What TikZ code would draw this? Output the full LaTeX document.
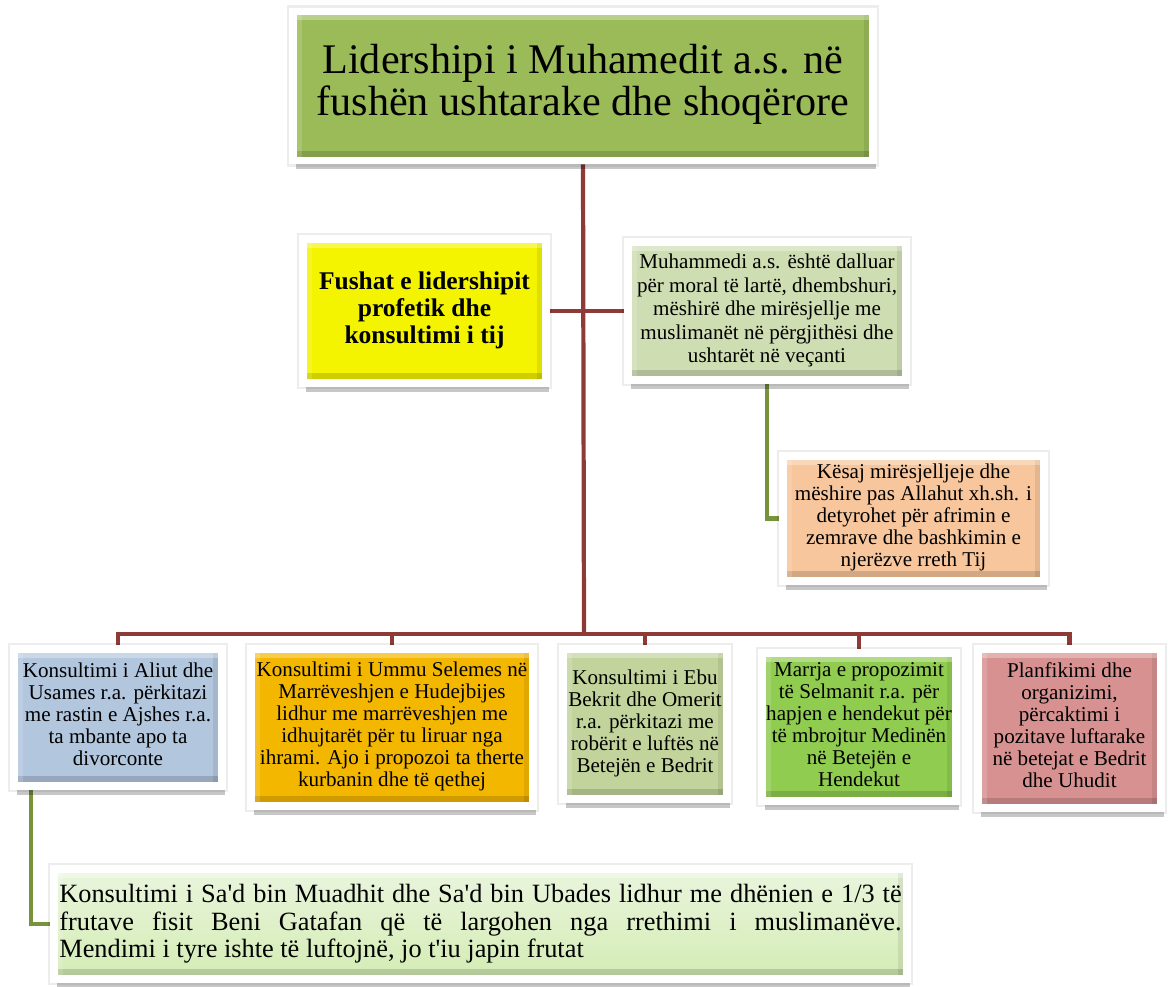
\documentclass[tikz,border=0pt]{standalone}
\usepackage{fontspec}
\setmainfont{Liberation Serif}
\usetikzlibrary{shadows,backgrounds}

\definecolor{titlegreen}{HTML}{9BBB59}
\definecolor{fieldyellow}{HTML}{F4F400}
\definecolor{moralgreen}{HTML}{CFDDB2}
\definecolor{mercypeach}{HTML}{F7C69C}
\definecolor{aliblue}{HTML}{B2C6DE}
\definecolor{ummuorange}{HTML}{F4B700}
\definecolor{bekrolive}{HTML}{C2D49C}
\definecolor{selmangreen}{HTML}{90CC50}
\definecolor{planred}{HTML}{D69190}
\definecolor{sadlight}{HTML}{EAF5DD}
\definecolor{saddark}{HTML}{D3ECB4}
\definecolor{linkred}{HTML}{8E3A37}
\definecolor{linkgreen}{HTML}{77933C}

\tikzset{
	box/.style={draw=white, line width=4.5pt, fill=#1, inner sep=0pt,
		preaction={draw=black, draw opacity=0.07, line width=7pt},
		drop shadow={shadow xshift=1.5pt, shadow yshift=-5pt, opacity=0.22, fill=black},
		path picture={
			\fill[black, opacity=0.15] ([yshift=2.2pt]path picture bounding box.south west) rectangle ([yshift=5.5pt]path picture bounding box.south east);
			\fill[black, opacity=0.08] ([xshift=-2.2pt]path picture bounding box.south east) rectangle ([xshift=-5pt]path picture bounding box.north east);
			\fill[white, opacity=0.3] ([yshift=-2.2pt]path picture bounding box.north west) rectangle ([yshift=-5pt]path picture bounding box.north east);
			\fill[white, opacity=0.15] ([xshift=2.2pt]path picture bounding box.south west) rectangle ([xshift=5pt]path picture bounding box.north west);
		}},
	redlink/.style={draw=linkred, line width=2.4pt},
	greenlink/.style={draw=linkgreen, line width=2.4pt},
	small/.style={font=\fontsize{12}{12.5}\selectfont}
}

\begin{document}
\begin{tikzpicture}[x=0.02cm,y=-0.02cm]
	\useasboundingbox (0,0) rectangle (1168,986);
	
	\node[box=titlegreen, minimum width=11.6cm, minimum height=2.98cm, font=\fontsize{24}{24}\selectfont] (title) at (583,86){\begin{tabular}{c}Lidershipi i Muhamedit a.s. në\\ fushën ushtarake dhe shoqërore\end{tabular}};
	
	\node[box=fieldyellow, minimum width=4.86cm, minimum height=2.88cm, font=\fontsize{14.5}{15.6}\selectfont\bfseries] (fields) at (424.5,311){\begin{tabular}{c}Fushat e lidershipit\\ profetik dhe\\ konsultimi i tij\end{tabular}};
	
	\node[box=moralgreen, minimum width=5.56cm, minimum height=2.76cm, font=\fontsize{12}{13.3}\selectfont] (moral) at (767,311){\begin{tabular}{@{}c@{}}Muhammedi a.s. është dalluar\\ për moral të lartë, dhembshuri,\\ mëshirë dhe mirësjellje me\\ muslimanët në përgjithësi dhe\\ ushtarët në veçanti\end{tabular}};
	
	\node[box=mercypeach, minimum width=5.22cm, minimum height=2.5cm, small] (mercy) at (913.5,518.5){\begin{tabular}{c}Kësaj mirësjelljeje dhe\\ mëshire pas Allahut xh.sh. i\\ detyrohet për afrimin e\\ zemrave dhe bashkimin e\\ njerëzve rreth Tij\end{tabular}};
	
	\node[box=aliblue, minimum width=4.16cm, minimum height=2.74cm, small] (ali) at (118,717.5){\begin{tabular}{@{}c@{}}Konsultimi i Aliut dhe\\ Usames r.a. përkitazi\\ me rastin e Ajshes r.a.\\ ta mbante apo ta\\ divorconte\end{tabular}};
	
	\node[box=ummuorange, minimum width=5.64cm, minimum height=3.14cm, small] (ummu) at (392,727.5){\begin{tabular}{@{}c@{}}Konsultimi i Ummu Selemes në\\ Marrëveshjen e Hudejbijes\\ lidhur me marrëveshjen me\\ idhujtarët për tu liruar nga\\ ihrami. Ajo i propozoi ta therte\\ kurbanin dhe të qethej\end{tabular}};
	
	\node[box=bekrolive, minimum width=3.28cm, minimum height=3cm, small] (bekr) at (645,724){\begin{tabular}{@{}c@{}}Konsultimi i Ebu\\ Bekrit dhe Omerit\\ r.a. përkitazi me\\ robërit e luftës në\\ Betejën e Bedrit\end{tabular}};
	
	\node[box=selmangreen, minimum width=3.88cm, minimum height=2.96cm, small] (selman) at (859,727){\begin{tabular}{@{}c@{}}Marrja e propozimit\\ të Selmanit r.a. për\\ hapjen e hendekut për\\ të mbrojtur Medinën\\ në Betejën e\\ Hendekut\end{tabular}};
	
	\node[box=planred, minimum width=3.66cm, minimum height=3.18cm, small] (plan) at (1069.5,728.5){\begin{tabular}{@{}c@{}}Planfikimi dhe\\ organizimi,\\ përcaktimi i\\ pozitave luftarake\\ në betejat e Bedrit\\ dhe Uhudit\end{tabular}};
	
	\node[box=sadlight, top color=sadlight, bottom color=saddark, minimum width=17.06cm, minimum height=2.2cm, text width=16.85cm, align=justify, font=\fontsize{15}{15.7}\selectfont] (sad) at (480.5,924){Konsultimi i Sa\textquotesingle d bin Muadhit dhe Sa\textquotesingle d bin Ubades lidhur me dhënien e 1/3 të\linebreak frutave fisit Beni Gatafan që të largohen nga rrethimi i muslimanëve.\linebreak Mendimi i tyre ishte të luftojnë, jo t\textquotesingle iu japin frutat};
	
	\coordinate (bus) at (584,634);
	
	\begin{scope}[on background layer]
		\draw[redlink] (title.south) -- (bus);
		\draw[redlink] (fields.east) -- (moral.west);
		\draw[greenlink] (moral.south) |- (mercy.west);
		\foreach \leaf in {ali,ummu,bekr,selman,plan}
			\draw[redlink] (bus) -| (\leaf.north);
		\draw[greenlink] ([xshift=0.42cm]ali.south west) |- (sad.west);
	\end{scope}
\end{tikzpicture}
\end{document}
